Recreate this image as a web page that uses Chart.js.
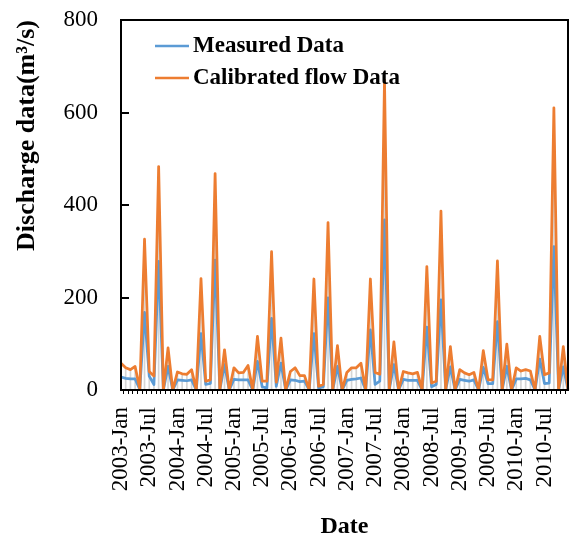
<!DOCTYPE html>
<html>
<head>
<meta charset="utf-8">
<script src="https://cdn.jsdelivr.net/npm/chart.js@4.4.1/dist/chart.umd.min.js"></script>
<style>
html,body{margin:0;padding:0;background:#fff;}
#wrap{width:573px;height:539px;position:relative;}
</style>
</head>
<body>
<div id="wrap"><canvas id="c" width="573" height="539"></canvas></div>
<script>
// ---- data ----
const years = [2003, 2004, 2005, 2006, 2007, 2008, 2009, 2010];
const monthNames = ['Jan','Feb','Mar','Apr','May','Jun','Jul','Aug','Sep','Oct','Nov','Dec'];
const categories = [];
years.forEach(y => monthNames.forEach(m => categories.push(y + '-' + m)));

const measured = [
  28, 25, 24, 24, 1, 168, 30, 12, 278, 0, 51, 0,
  22, 21, 20, 22, 0, 122, 12, 14, 281, 0, 55, 0,
  23, 22, 22, 22, 0, 62, 7, 4, 155, 8, 58, 0,
  22, 21, 18, 19, 0, 122, 4, 7, 199, 0, 51, 0,
  21, 23, 24, 26, 0, 130, 12, 19, 368, 0, 55, 0,
  23, 21, 21, 21, 0, 136, 7, 12, 195, 0, 50, 0,
  23, 21, 19, 22, 0, 49, 14, 14, 148, 0, 51, 0,
  24, 24, 25, 22, 0, 67, 14, 15, 310, 0, 50, 0
];
const calibrated = [
  58, 48, 44, 51, 2, 326, 40, 30, 483, 0, 91, 0,
  39, 35, 34, 44, 0, 241, 19, 22, 468, 0, 87, 0,
  48, 37, 38, 53, 0, 116, 19, 19, 299, 17, 112, 0,
  40, 48, 31, 31, 0, 240, 8, 12, 362, 0, 96, 0,
  38, 48, 48, 58, 0, 240, 38, 34, 670, 0, 104, 0,
  40, 37, 35, 38, 0, 267, 15, 19, 387, 0, 94, 0,
  44, 37, 33, 38, 0, 85, 22, 22, 279, 0, 99, 0,
  48, 41, 44, 41, 0, 116, 33, 37, 610, 0, 94, 0
];
const yTicks = [0, 200, 400, 600, 800];
const seriesNames = ['Measured Data', 'Calibrated flow Data'];
const xTitle = 'Date';
const yTitle = 'Discharge data(m\u00B3/s)';

const SERIF = '"Liberation Serif", "Times New Roman", serif';

// frame + inward y ticks
const framePlugin = {
  id: 'frame',
  afterDraw(chart) {
    const {ctx, chartArea: a, scales} = chart;
    ctx.save();
    ctx.strokeStyle = '#000';
    ctx.lineWidth = 2;
    ctx.strokeRect(a.left, a.top, a.right - a.left, a.bottom - a.top);
    yTicks.forEach(v => {
      const y = Math.round(scales.y.getPixelForValue(v));
      ctx.beginPath();
      ctx.moveTo(a.left, y);
      ctx.lineTo(a.left + 8, y);
      ctx.stroke();
    });
    ctx.restore();
  }
};

// legend inside plot
const legendPlugin = {
  id: 'insideLegend',
  afterDatasetsDraw(chart) {
    const {ctx} = chart;
    ctx.save();
    const items = chart.data.datasets.filter(d => d.type === 'line');
    items.forEach((d, i) => {
      const y = 46 + i * 32;
      ctx.strokeStyle = d.borderColor;
      ctx.lineWidth = 2.5;
      ctx.beginPath();
      ctx.moveTo(155, y);
      ctx.lineTo(189, y);
      ctx.stroke();
      ctx.fillStyle = '#000';
      ctx.font = 'bold 23px ' + SERIF;
      ctx.textBaseline = 'middle';
      ctx.textAlign = 'left';
      ctx.fillText(d.label, 193, y);
    });
    ctx.restore();
  }
};

new Chart(document.getElementById('c'), {
  type: 'line',
  data: {
    labels: categories,
    datasets: [
      {
        type: 'line',
        label: seriesNames[0],
        data: measured,
        borderColor: '#5B9BD5',
        borderWidth: 2.75,
        pointRadius: 0,
        tension: 0,
        borderJoinStyle: 'round',
        fill: false,
        order: 2
      },
      {
        type: 'line',
        label: seriesNames[1],
        data: calibrated,
        borderColor: '#ED7D31',
        borderWidth: 2.75,
        pointRadius: 0,
        tension: 0,
        borderJoinStyle: 'round',
        fill: false,
        order: 1
      },
      {
        type: 'bar',
        label: 'drop',
        data: calibrated,
        backgroundColor: 'rgba(185,185,185,0.6)',
        barThickness: 1,
        order: 3
      }
    ]
  },
  options: {
    responsive: false,
    animation: false,
    devicePixelRatio: 1,
    layout: { padding: { top: 20, right: 5, left: 0, bottom: 0 } },
    plugins: {
      legend: { display: false },
      tooltip: { enabled: false }
    },
    scales: {
      x: {
        type: 'category',
        offset: false,
        grid: {
          display: true,
          drawOnChartArea: false,
          drawTicks: true,
          tickLength: 4,
          color: '#000',
          lineWidth: 1
        },
        border: { display: true, color: '#000', width: 2 },
        ticks: {
          autoSkip: false,
          maxRotation: 90,
          minRotation: 90,
          padding: 13,
          color: '#000',
          font: { family: SERIF, size: 23 },
          callback: function(value, index) {
            return index % 6 === 0 ? categories[index] : '';
          }
        },
        title: {
          display: true,
          text: xTitle,
          color: '#000',
          font: { family: SERIF, size: 24, weight: 'bold' },
          padding: { top: 0, bottom: -2 }
        },
        afterFit(scale) {
          scale.height = 149;
          scale.paddingLeft = 0;
          scale.paddingRight = 0;
        }
      },
      y: {
        min: 0,
        max: 800,
        grid: { display: false, drawTicks: false },
        border: { display: true, color: '#000', width: 2 },
        ticks: {
          stepSize: 200,
          padding: 23,
          color: '#000',
          font: { family: SERIF, size: 23 }
        },
        afterBuildTicks(scale) { scale.ticks = yTicks.map(v => ({ value: v })); },
        title: {
          display: true,
          text: yTitle,
          align: 'end',
          color: '#000',
          font: { family: SERIF, size: 26, weight: 'bold' },
          padding: { top: 12, bottom: 0 }
        },
        afterFit(scale) {
          scale.width = 121;
          scale.paddingTop = 0;
          scale.paddingBottom = 0;
        }
      }
    }
  },
  plugins: [framePlugin, legendPlugin]
});
</script>
</body>
</html>
